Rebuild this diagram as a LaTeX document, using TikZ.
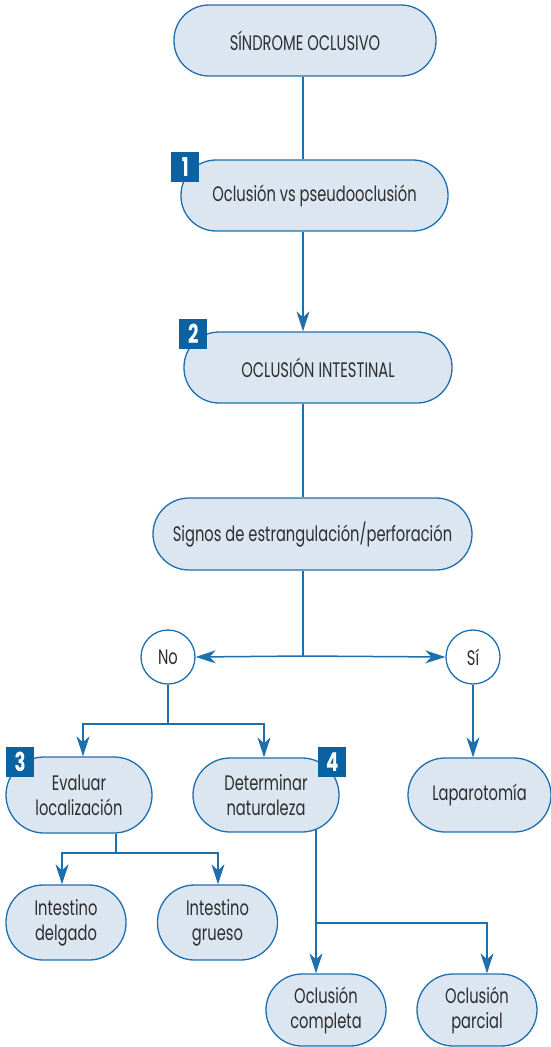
\documentclass[tikz,border=0pt]{standalone}
\usepackage{fontspec}
\setmainfont[FakeStretch=0.70]{Poppins}
\usetikzlibrary{arrows.meta,backgrounds}
\definecolor{bfill}{HTML}{DCE6F1}
\definecolor{bline}{HTML}{1E6FAE}
\definecolor{bbadge}{HTML}{0A62A3}
\definecolor{btext}{HTML}{2E2E2E}
\begin{document}
\begin{tikzpicture}[x=1pt,y=-1pt,
  box/.style={draw=bline, fill=bfill, line width=1.3pt, inner sep=0pt, text=btext,
    font=\fontsize{21}{25}\selectfont, align=center, rectangle},
  circ/.style={draw=bline, fill=white, line width=1.3pt, circle, minimum size=54pt, inner sep=0pt,
    text=btext, font=\fontsize{21}{25}\selectfont},
  badge/.style={fill=bbadge, text=white, anchor=north west, minimum width=28pt, minimum height=30pt,
    inner sep=0pt, font=\fontsize{26}{26}\selectfont\bfseries},
  conn/.style={draw=bline, line width=1.5pt},
  arr/.style={conn, -{Stealth[length=20pt,width=13pt,inset=6pt]}}
]
\useasboundingbox (0,0) rectangle (551,1047);
\node[box, minimum width=262pt, minimum height=71pt, rounded corners=35pt] (s0) at (305,40.5) {SÍNDROME OCLUSIVO};
\node[box, minimum width=267pt, minimum height=71pt, rounded corners=35pt] (s1) at (314.5,195.5) {Oclusión vs pseudooclusión};
\node[box, minimum width=268pt, minimum height=71pt, rounded corners=35pt] (s2) at (318,367.5) {OCLUSIÓN INTESTINAL};
\node[box, minimum width=319pt, minimum height=72pt, rounded corners=36pt] (s3) at (312.5,534) {Signos de estrangulación/perforación};
\node[circ] (no) at (168,657) {No};
\node[circ] (si) at (473,657) {Sí};
\node[box, minimum width=146pt, minimum height=76pt, rounded corners=38pt] (ev) at (79,795) {Evaluar\\localización};
\node[box, minimum width=146pt, minimum height=74pt, rounded corners=37pt] (de) at (266,795) {Determinar\\naturaleza};
\node[box, minimum width=143pt, minimum height=74pt, rounded corners=37pt] (la) at (479.5,795) {Laparotomía};
\node[box, minimum width=120pt, minimum height=75pt, rounded corners=37pt] (id) at (66,922.5) {Intestino\\delgado};
\node[box, minimum width=120pt, minimum height=75pt, rounded corners=37pt] (ig) at (217.5,922.5) {Intestino\\grueso};
\node[box, minimum width=120pt, minimum height=72pt, rounded corners=36pt] (oc) at (326,1010) {Oclusión\\completa};
\node[box, minimum width=120pt, minimum height=72pt, rounded corners=36pt] (op) at (477,1010) {Oclusión\\parcial};
\node[badge] (b1) at (171,152) {1};
\node[badge] (b2) at (179,319) {2};
\node[badge] (b3) at (6,747) {3};
\node[badge] (b4) at (318,747) {4};
\coordinate (sp) at (303,0);
\coordinate (j0) at (303,656);
\coordinate (j1) at (168,724);
\coordinate (ja) at (83,724);
\coordinate (jb) at (264,724);
\coordinate (jc) at (116,853);
\coordinate (jd) at (62,853);
\coordinate (je) at (218,853);
\coordinate (jf) at (316,923);
\coordinate (jg) at (487,923);
\begin{scope}[on background layer]
\draw[conn] (s0.south -| sp) -- (s1.north -| sp);
\draw[arr] (s1.south -| sp) -- (s2.north -| sp);
\draw[conn] (s2.south -| sp) -- (s3.north -| sp);
\draw[conn] (s3.south -| sp) -- (j0);
\draw[arr] (j0) -- (no.east);
\draw[arr] (j0) -- (si.west);
\draw[conn] (no.south) -- (j1);
\draw[arr] (j1) -- (ja) -- (ja |- ev.north);
\draw[arr] (j1) -- (jb) -- (jb |- de.north);
\draw[arr] (si.south) -- (si.south |- la.north);
\draw[conn] (jc |- ev.south) -- (jc);
\draw[arr] (jc) -- (jd) -- (jd |- id.north);
\draw[arr] (jc) -- (je) -- (je |- ig.north);
\draw[conn] (jf |- de.center) -- (jf);
\draw[arr] (jf) -- (jf |- oc.north);
\draw[arr] (jf) -- (jg) -- (jg |- op.north);
\end{scope}
\end{tikzpicture}
\end{document}
